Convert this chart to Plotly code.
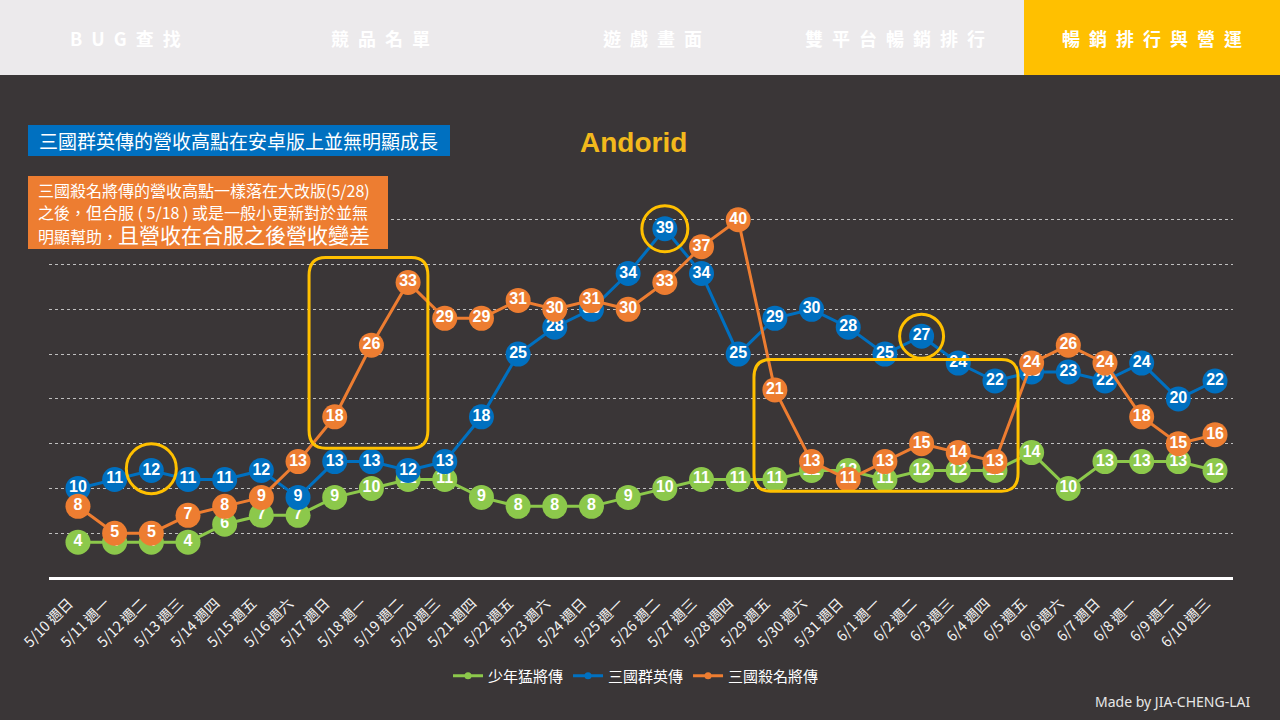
import plotly.graph_objects as go

# x categories (date + weekday)
days = ["5/10 週日", "5/11 週一", "5/12 週二", "5/13 週三", "5/14 週四", "5/15 週五",
        "5/16 週六", "5/17 週日", "5/18 週一", "5/19 週二", "5/20 週三", "5/21 週四",
        "5/22 週五", "5/23 週六", "5/24 週日", "5/25 週一", "5/26 週二", "5/27 週三",
        "5/28 週四", "5/29 週五", "5/30 週六", "5/31 週日", "6/1 週一", "6/2 週二",
        "6/3 週三", "6/4 週四", "6/5 週五", "6/6 週六", "6/7 週日", "6/8 週一",
        "6/9 週二", "6/10 週三"]

shaonian = [4, 4, 4, 4, 6, 7, 7, 9, 10, 11, 11, 9, 8, 8, 8, 9, 10, 11, 11, 11, 12, 12,
            11, 12, 12, 12, 14, 10, 13, 13, 13, 12]
qunying = [10, 11, 12, 11, 11, 12, 9, 13, 13, 12, 13, 18, 25, 28, 30, 34, 39, 34, 25, 29,
           30, 28, 25, 27, 24, 22, 23, 23, 22, 24, 20, 22]
shaming = [8, 5, 5, 7, 8, 9, 13, 18, 26, 33, 29, 29, 31, 30, 31, 30, 33, 37, 40, 21, 13,
           11, 13, 15, 14, 13, 24, 26, 24, 18, 15, 16]

names = ["少年猛將傳", "三國群英傳", "三國殺名將傳"]
colors = ["#8CC84B", "#0070C0", "#ED7D31"]

nav_tabs = ["BUG查找", "競品名單", "遊戲畫面", "雙平台暢銷排行", "暢銷排行與營運"]

BG = "#3A3637"
YEL = "#FFC000"
CJK = "Noto Sans CJK TC"

W, H = 1280, 720
L, R, T, B = 49, 47, 175, 142
pw, ph = W - L - R, H - T - B


def px(x):
    return (x - L) / pw


def py(y):
    return (H - B - y) / ph


idx = list(range(len(days)))
fig = go.Figure()

for vals, name, col in zip([shaonian, qunying, shaming], names, colors):
    fig.add_trace(go.Scatter(
        x=idx, y=vals, mode="lines+markers+text", name=name,
        line=dict(color=col, width=3),
        marker=dict(color=col, size=25),
        text=[str(v) for v in vals], textposition="middle center",
        textfont=dict(family="Liberation Sans", size=16, color="white", weight="bold"),
        showlegend=False, cliponaxis=False, hoverinfo="skip"))
    # legend entry only
    fig.add_trace(go.Scatter(
        x=[None], y=[None], mode="lines+markers", name=name,
        line=dict(color=col, width=3), marker=dict(color=col, size=7)))

shapes = []
# nav bar
shapes.append(dict(type="rect", xref="paper", yref="paper", x0=px(0), x1=px(W),
                   y0=py(75), y1=py(0), fillcolor="#ECEAEC", line_width=0, layer="below"))
shapes.append(dict(type="rect", xref="paper", yref="paper", x0=px(1024), x1=px(W),
                   y0=py(75), y1=py(0), fillcolor=YEL, line_width=0, layer="below"))
# text boxes
shapes.append(dict(type="rect", xref="paper", yref="paper", x0=px(28), x1=px(450),
                   y0=py(156), y1=py(125), fillcolor="#0070C0", line_width=0))
shapes.append(dict(type="rect", xref="paper", yref="paper", x0=px(28), x1=px(388),
                   y0=py(249), y1=py(176), fillcolor="#ED7D31", line_width=0))


def rounded(x0, x1, y0, y1, rx, ry):
    return (f"M {x0+rx} {y0} L {x1-rx} {y0} Q {x1} {y0} {x1} {y0+ry} "
            f"L {x1} {y1-ry} Q {x1} {y1} {x1-rx} {y1} L {x0+rx} {y1} "
            f"Q {x0} {y1} {x0} {y1-ry} L {x0} {y0+ry} Q {x0} {y0} {x0+rx} {y0} Z")


# highlight boxes (data coords)
shapes.append(dict(type="path", xref="x", yref="y", path=rounded(6.3, 9.54, 14.5, 35.8, 0.45, 2.0),
                   line=dict(color=YEL, width=3)))
shapes.append(dict(type="path", xref="x", yref="y", path=rounded(18.43, 25.63, 9.7, 24.4, 0.45, 2.0),
                   line=dict(color=YEL, width=3)))
# highlight circles
for cx, cy, r in [(2, 12.2, 25), (16, 39, 23), (23, 27, 22)]:
    shapes.append(dict(type="circle", xref="x", yref="y", xsizemode="pixel", ysizemode="pixel",
                       xanchor=cx, yanchor=cy, x0=-r, x1=r, y0=-r, y1=r,
                       line=dict(color=YEL, width=3)))

ann = []
nav_x = [125, 380, 652, 895, 1152]
for t, x in zip(nav_tabs, nav_x):
    ann.append(dict(text="\u2002".join(t), xref="paper", yref="paper", x=px(x), y=py(38),
                    xanchor="center", yanchor="middle", showarrow=False,
                    font=dict(family=CJK, size=18, color="white", weight="bold")))

ann.append(dict(text="三國群英傳的營收高點在安卓版上並無明顯成長", xref="paper", yref="paper",
                x=px(37), y=py(140), xanchor="left", yanchor="middle", showarrow=False,
                font=dict(family=CJK, size=19, color="white")))
orange_lines = ["三國殺名將傳的營收高點一樣落在大改版(5/28)",
                "之後，但合服 ( 5/18 ) 或是一般小更新對於並無",
                "明顯幫助，<span style='font-size:21px'>且營收在合服之後營收變差</span>"]
for t, y in zip(orange_lines, [190, 212, 234]):
    ann.append(dict(text=t, xref="paper", yref="paper", x=px(36), y=py(y), xanchor="left",
                    yanchor="middle", showarrow=False,
                    font=dict(family=CJK, size=16, color="white")))

ann.append(dict(text="Andorid", xref="paper", yref="paper", x=px(633), y=py(143),
                xanchor="center", yanchor="middle", showarrow=False,
                font=dict(family="Liberation Sans", size=28, color="#F2B91C", weight="bold")))
ann.append(dict(text="Made by JIA-CHENG-LAI", xref="paper", yref="paper", x=px(1252), y=py(701),
                xanchor="right", yanchor="middle", showarrow=False,
                font=dict(family="Noto Sans", size=14, color="#E6E6E6")))

fig.update_layout(
    width=W, height=H, margin=dict(l=L, r=R, t=T, b=B),
    paper_bgcolor=BG, plot_bgcolor=BG,
    shapes=shapes, annotations=ann,
    legend=dict(orientation="h", x=px(636), y=py(676), xanchor="center", yanchor="middle",
                font=dict(family=CJK, size=15, color="white"), bgcolor="rgba(0,0,0,0)",
                itemwidth=30, tracegroupgap=0),
    xaxis=dict(range=[-0.79, 31.49], tickmode="array", tickvals=idx, ticktext=days,
               tickangle=-45, showgrid=False, zeroline=False, showline=False, ticks="",
               ticklabelstandoff=13, ticklabelshift=-9,
               tickfont=dict(family=CJK, size=14.5, color="#F2F2F2"), fixedrange=True),
    yaxis=dict(range=[0, 45], dtick=5, showgrid=True, gridcolor="#BFBFBF", griddash="dot",
               gridwidth=1, zeroline=True, zerolinecolor="white", zerolinewidth=3,
               showticklabels=False, ticks="", showline=False, fixedrange=True),
)

fig.write_html("out.html", config={"displayModeBar": False},
               post_script="document.body.style.margin='0';")
